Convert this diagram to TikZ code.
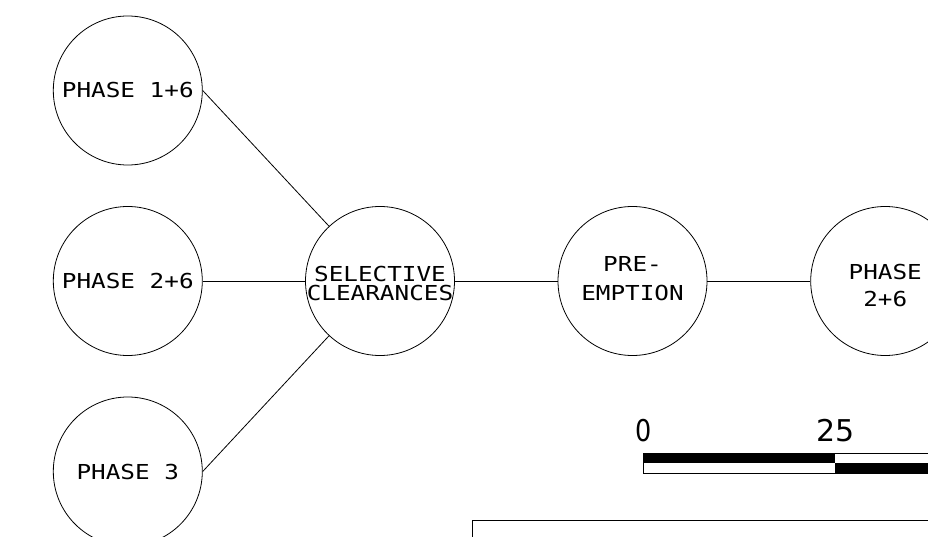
\documentclass[tikz,border=0pt]{standalone}
\usepackage{fontspec}
\usepackage{graphicx}
\newfontfamily\cadfont{DejaVu Sans Mono}
\newfontfamily\cadnum{DejaVu Sans}
\newcommand\cadw[1]{\scalebox{1.18}[1]{#1}}
\begin{document}
\begin{tikzpicture}[x=1pt,y=-1pt,
  phase/.style={circle,draw,line width=0.8pt,minimum size=149pt,inner sep=0pt,
    align=center,font=\cadfont\fontsize{20.6}{18}\selectfont},
  txt/.style={inner sep=0pt,align=center,font=\cadfont\fontsize{20.6}{18.3}\selectfont},
  link/.style={line width=0.8pt},
  scalelbl/.style={inner sep=0pt,font=\cadnum\fontsize{30}{30}\selectfont}]
\useasboundingbox (0,0) rectangle (928,537);
\clip (0,0) rectangle (928,537);

\node[phase] (p16) at (127.8,90.5) {\cadw{PHASE 1+6}};
\node[phase] (p26) at (127.8,281) {\cadw{PHASE 2+6}};
\node[phase] (p3)  at (127.8,471.5) {\cadw{PHASE 3}};
\node[phase,label={[txt,yshift=-2.5pt]center:\cadw{SELECTIVE}\\\cadw{CLEARANCES}}] (sel) at (380,281) {};
\node[phase,label={[txt,yshift=2.5pt]center:\cadw{PRE-}\\[10pt]\cadw{EMPTION}}] (pre) at (632.5,281) {};
\node[phase,label={[txt,yshift=-4.5pt]center:\cadw{PHASE}\\[8pt]\cadw{2+6}}] (p26b) at (885.2,281) {};

\draw[link] (p16.east) -- (sel);
\draw[link] (p26) -- (sel);
\draw[link] (p3.east) -- (sel);
\draw[link] (sel) -- (pre);
\draw[link] (pre) -- (p26b);

% scale bar
\node[scalelbl] (s0) at (643.5,431) {\scalebox{0.85}[1]{0}};
\node[scalelbl] (s25) at (835.5,431) {25};
\fill[black] (643.3,453.3) rectangle (835.3,463);
\fill[black] (835.3,463) rectangle (1030,473);
\draw[line width=0.8pt] (643.3,453.3) rectangle (1030,473);

% bottom frame
\draw[line width=1pt] (472,520.3) rectangle (1000,620);
\end{tikzpicture}
\end{document}
